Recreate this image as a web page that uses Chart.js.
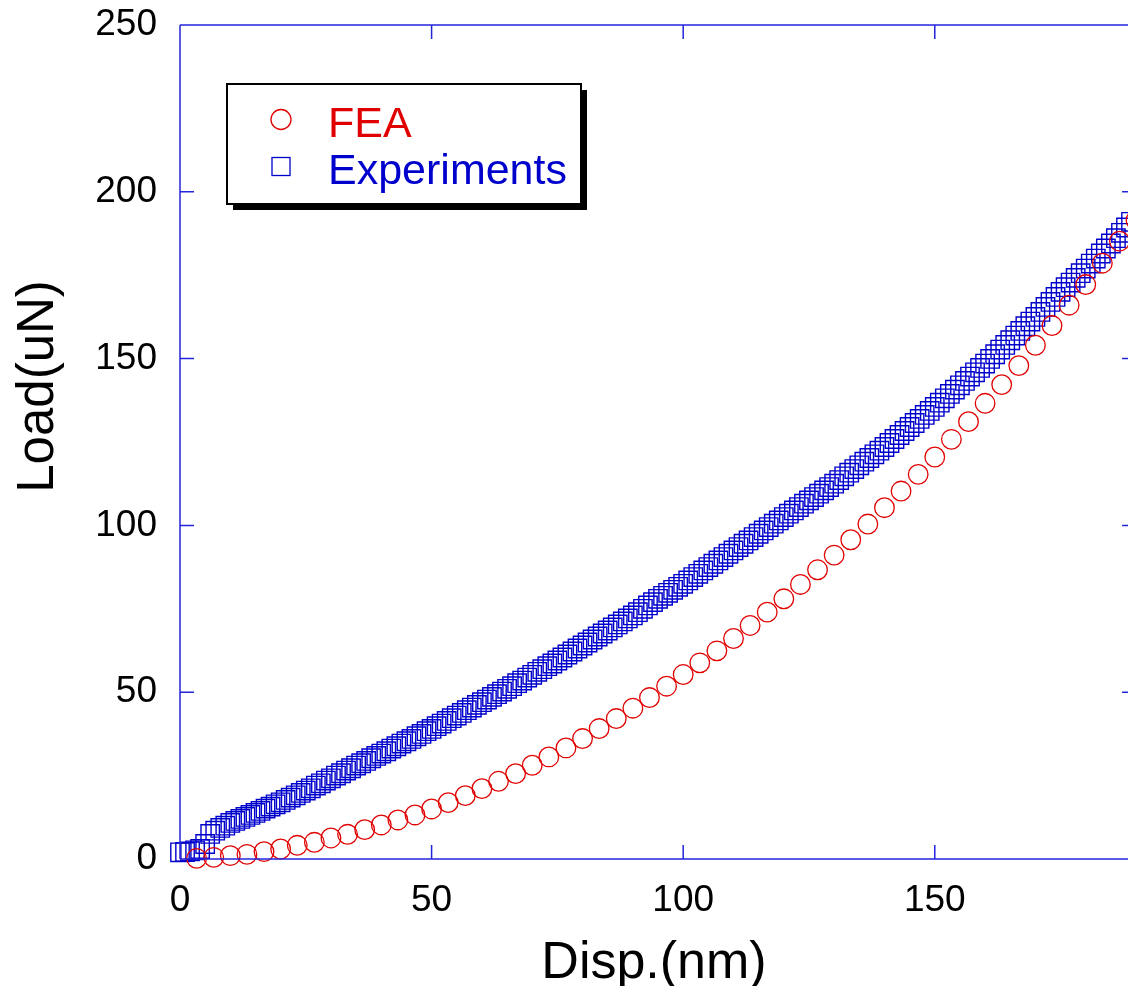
<!DOCTYPE html>
<html><head><meta charset="utf-8">
<script src="https://cdn.jsdelivr.net/npm/chart.js@4.4.1/dist/chart.umd.min.js"></script>
<style>
html,body{margin:0;padding:0;overflow:hidden;background:#fff;width:1128px;height:986px}
canvas{display:block}
</style></head>
<body><canvas id="c" width="1128" height="986"></canvas>
<script>
// ---- data ----
const feaDisp = [3.3,6.7,10,13.3,16.7,20,23.3,26.7,30,33.3,36.7,40,43.3,46.7,50,53.3,56.7,60,63.3,66.7,70,73.3,76.7,80,83.3,86.7,90,93.3,96.7,100,103.3,106.7,110,113.3,116.7,120,123.3,126.7,130,133.3,136.7,140,143.3,146.7,150,153.3,156.7,160,163.3,166.7,170,173.3,176.7,180,183.3,186.7,190];
const feaLoad = [0.2,0.5,1.0,1.4,2.2,3.0,4.1,5.0,6.3,7.4,8.8,10.2,11.7,13.2,15.0,16.9,19.0,21.1,23.3,25.6,28.1,30.6,33.3,36.1,39.1,42.1,45.2,48.4,51.8,55.3,58.8,62.4,66.1,70.0,74.0,78.0,82.3,86.7,91.1,95.7,100.4,105.3,110.3,115.3,120.5,125.8,131.1,136.6,142.2,147.9,154.0,159.9,166.0,172.2,178.6,185.2,191.5];
const expDisp = [0,1,2,3,4,5,6,7,8,9,10,11,12,13,14,15,16,17,18,19,20,21,22,23,24,25,26,27,28,29,30,31,32,33,34,35,36,37,38,39,40,41,42,43,44,45,46,47,48,49,50,51,52,53,54,55,56,57,58,59,60,61,62,63,64,65,66,67,68,69,70,71,72,73,74,75,76,77,78,79,80,81,82,83,84,85,86,87,88,89,90,91,92,93,94,95,96,97,98,99,100,101,102,103,104,105,106,107,108,109,110,111,112,113,114,115,116,117,118,119,120,121,122,123,124,125,126,127,128,129,130,131,132,133,134,135,136,137,138,139,140,141,142,143,144,145,146,147,148,149,150,151,152,153,154,155,156,157,158,159,160,161,162,163,164,165,166,167,168,169,170,171,172,173,174,175,176,177,178,179,180,181,182,183,184,185,186,187,188,189];
const expLoad = [2.0,2.1,2.3,2.6,3.0,4.5,7.5,8.5,9.3,10.0,10.8,11.4,12.0,12.6,13.2,13.8,14.4,15.1,15.7,16.4,17.0,17.7,18.4,19.1,19.8,20.5,21.2,22.0,22.7,23.5,24.2,25.0,25.7,26.5,27.2,28.0,28.7,29.4,30.2,30.9,31.6,32.3,33.1,33.8,34.6,35.3,36.0,36.8,37.5,38.3,39.0,39.8,40.6,41.4,42.2,43.0,43.8,44.6,45.4,46.2,47.0,47.8,48.6,49.4,50.2,51.0,51.8,52.7,53.5,54.4,55.2,56.1,56.9,57.8,58.6,59.5,60.4,61.3,62.2,63.1,64.0,64.9,65.8,66.7,67.6,68.5,69.4,70.3,71.2,72.1,73.0,74.0,75.0,76.0,77.0,78.0,78.9,79.8,80.7,81.6,82.5,83.5,84.5,85.5,86.5,87.5,88.5,89.5,90.5,91.5,92.5,93.5,94.5,95.5,96.5,97.5,98.5,99.5,100.5,101.5,102.5,103.5,104.5,105.5,106.5,107.5,108.5,109.5,110.5,111.5,112.5,113.6,114.7,115.8,116.9,118.0,119.1,120.2,121.3,122.4,123.5,124.7,125.9,127.1,128.3,129.5,130.7,131.9,133.1,134.3,135.5,136.8,138.1,139.4,140.7,142.0,143.3,144.6,145.9,147.2,148.5,149.9,151.3,152.7,154.1,155.5,156.9,158.3,159.7,161.1,162.5,164.0,165.5,167.0,168.5,170.0,171.4,172.8,174.2,175.6,177.0,178.5,180.0,181.5,183.0,184.5,186.1,187.7,189.3,191.0];
const xTickValues = [0,50,100,150];
const yTickValues = [0,50,100,150,200,250];
const xVisibleMax = 188.4;   // the picture is cut at about 188.4 nm
const xFrameEnd = 190;       // the right-hand frame lies just past the cut
const seriesNames = ['FEA','Experiments'];
const xTitle = 'Disp.(nm)';
const yTitle = 'Load(uN)';

// ---- styling ----
const RED = '#e00000';
const BLUE = '#0000cc';
const AXIS = '#2424dc';
const FONT = "'Liberation Sans', Arial, sans-serif";

const toPts = (xs, ys) => xs.map((v, i) => ({x: v, y: ys[i]}));

const framePlugin = {
  id: 'frame',
  afterDatasetsDraw(chart) {
    const {ctx, chartArea: a, scales: {x, y}} = chart;
    const xr = x.getPixelForValue(xFrameEnd);
    ctx.save();
    ctx.strokeStyle = AXIS;
    ctx.lineWidth = 1.5;
    ctx.beginPath();
    ctx.moveTo(a.left, a.top); ctx.lineTo(xr, a.top);
    ctx.moveTo(a.left, a.bottom); ctx.lineTo(xr, a.bottom);
    ctx.moveTo(a.left, a.top); ctx.lineTo(a.left, a.bottom);
    ctx.moveTo(xr, a.top); ctx.lineTo(xr, a.bottom);
    const TL = 14;
    x.ticks.forEach(t => {
      const px = x.getPixelForValue(t.value);
      ctx.moveTo(px, a.bottom); ctx.lineTo(px, a.bottom - TL);
      ctx.moveTo(px, a.top); ctx.lineTo(px, a.top + TL);
    });
    y.ticks.forEach(t => {
      const py = y.getPixelForValue(t.value);
      ctx.moveTo(a.left, py); ctx.lineTo(a.left + TL, py);
      ctx.moveTo(xr, py); ctx.lineTo(xr - TL, py);
    });
    ctx.stroke();
    ctx.restore();
  },
  afterDraw(chart) {
    const {ctx} = chart;
    const yt = chart.options.scales.y.title;
    ctx.save();
    ctx.font = '51px ' + FONT;
    ctx.fillStyle = '#000';
    ctx.textAlign = 'center';
    ctx.textBaseline = 'alphabetic';
    ctx.translate(53, 386.5);
    ctx.rotate(-Math.PI / 2);
    ctx.fillText(yt.text, 0, 0);
    ctx.restore();

    const L = 227, T = 84, W = 354, H = 120;
    ctx.save();
    ctx.fillStyle = '#000';
    ctx.fillRect(L + 6, T + 6, W, H);
    ctx.fillStyle = '#fff';
    ctx.fillRect(L, T, W, H);
    ctx.strokeStyle = '#000';
    ctx.lineWidth = 2;
    ctx.strokeRect(L, T, W, H);
    const ds = chart.data.datasets;
    ctx.lineWidth = 1.3;
    ctx.strokeStyle = ds[0].borderColor;
    ctx.beginPath(); ctx.arc(281, 119.5, 10, 0, Math.PI * 2); ctx.stroke();
    ctx.strokeStyle = ds[1].borderColor;
    ctx.strokeRect(272, 157.5, 18, 18);
    ctx.font = '43px ' + FONT;
    ctx.textAlign = 'left';
    ctx.textBaseline = 'alphabetic';
    ctx.fillStyle = RED;
    ctx.fillText(ds[0].label, 328, 136.5);
    ctx.fillStyle = BLUE;
    ctx.fillText(ds[1].label, 328, 183.5);
    ctx.restore();
  }
};

const zeroPad = s => { s.paddingLeft = 0; s.paddingRight = 0; s.paddingTop = 0; s.paddingBottom = 0; };

new Chart(document.getElementById('c'), {
  type: 'scatter',
  data: {
    datasets: [
      {
        label: seriesNames[0],
        data: toPts(feaDisp, feaLoad),
        pointStyle: 'circle',
        pointRadius: 9.8,
        pointBorderWidth: 1.3,
        borderColor: RED,
        pointBorderColor: RED,
        backgroundColor: 'rgba(0,0,0,0)',
        pointBackgroundColor: 'rgba(0,0,0,0)',
        showLine: false,
        clip: false
      },
      {
        label: seriesNames[1],
        data: toPts(expDisp, expLoad),
        pointStyle: 'rect',
        pointRadius: 13,
        pointBorderWidth: 1.4,
        borderColor: BLUE,
        pointBorderColor: BLUE,
        backgroundColor: 'rgba(0,0,0,0)',
        pointBackgroundColor: 'rgba(0,0,0,0)',
        showLine: false,
        clip: false
      }
    ]
  },
  options: {
    responsive: false,
    animation: false,
    devicePixelRatio: 1,
    layout: {autoPadding: false, padding: {top: 25, right: 0, left: 0, bottom: 0}},
    plugins: {legend: {display: false}, tooltip: {enabled: false}},
    scales: {
      x: {
        type: 'linear',
        min: 0, max: xVisibleMax,
        border: {display: false},
        grid: {display: false, drawTicks: false},
        ticks: {stepSize: 50, includeBounds: false, padding: 20, color: '#000', font: {family: FONT, size: 37}, maxRotation: 0},
        afterBuildTicks: s => { s.ticks = xTickValues.map(v => ({value: v})); },
        afterFit: s => { s.height = 127; zeroPad(s); },
        title: {display: true, text: xTitle, color: '#000', font: {family: FONT, size: 52}, padding: {top: 0, bottom: -9}}
      },
      y: {
        type: 'linear',
        min: 0, max: 250,
        border: {display: false},
        grid: {display: false, drawTicks: false},
        ticks: {stepSize: 50, padding: 23, color: '#000', font: {family: FONT, size: 37}},
        afterBuildTicks: s => { s.ticks = yTickValues.map(v => ({value: v})); },
        afterFit: s => { s.width = 180; zeroPad(s); },
        title: {display: false, text: yTitle}
      }
    }
  },
  plugins: [framePlugin]
});
</script>
</body></html>
